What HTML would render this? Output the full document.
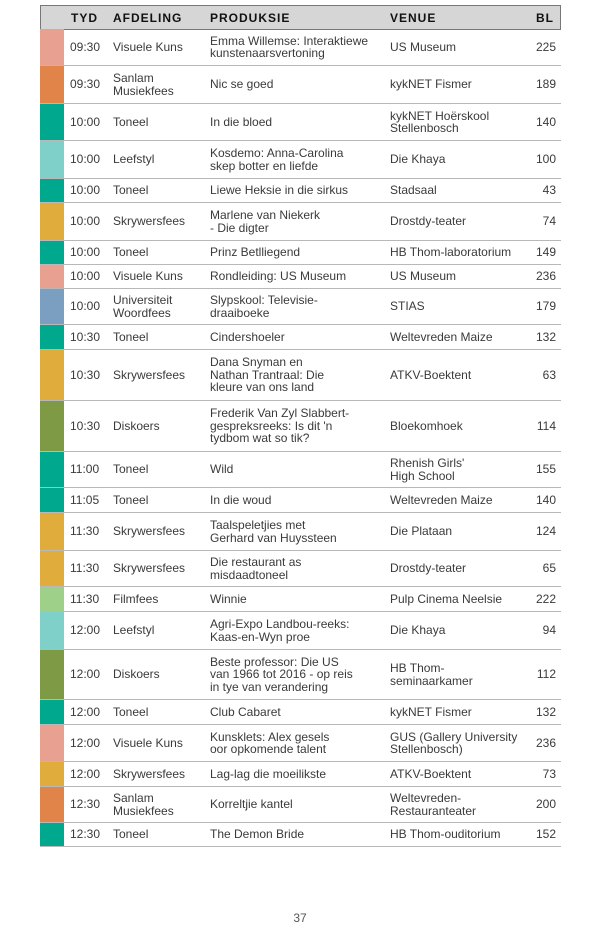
<!DOCTYPE html>
<html><head><meta charset="utf-8"><style>
body{margin:0;width:600px;height:930px;background:#fff;font-family:"Liberation Sans",sans-serif;color:#3a3a3a;position:relative;overflow:hidden}
.hd{position:absolute;left:40px;top:5px;width:519px;height:23px;background:#d6d6d6;border:1px solid #777;font-weight:bold;font-size:12px;letter-spacing:1px;color:#111}
.hd span{position:absolute;top:5px}
.r{position:absolute;left:40px;width:521px;border-bottom:1px solid #b8b8b8;font-size:12px;line-height:12.5px}
.r>div{position:absolute;top:0;bottom:0;display:flex;align-items:center}
.c{left:0;width:24px}
.t{left:30px}.a{left:73px}.p{left:170px;width:180px}.v{left:350px;width:140px}.b{right:5px}
.pg{position:absolute;top:911px;left:0;width:600px;text-align:center;font-size:12px;color:#555}
</style></head><body>
<div class="hd"><span style="left:30px">TYD</span><span style="left:72px">AFDELING</span><span style="left:169px">PRODUKSIE</span><span style="left:349px">VENUE</span><span style="right:6px">BL</span></div>
<div id="rows"></div>
<div class="pg">37</div>
<script>
var P="#e8a090",O="#e0844a",T="#00a88e",L="#7fd0c8",G="#e0ad3c",B="#7b9fc0",V="#7e9a45",F="#9ed08a";
var d=[
[29,66,P,"09:30","Visuele Kuns","Emma Willemse: Interaktiewe<br>kunstenaarsvertoning","US Museum",225],
[66,104,O,"09:30","Sanlam<br>Musiekfees","Nic se goed","kykNET Fismer",189],
[104,141,T,"10:00","Toneel","In die bloed","kykNET Hoërskool<br>Stellenbosch",140],
[141,179,L,"10:00","Leefstyl","Kosdemo: Anna-Carolina<br>skep botter en liefde","Die Khaya",100],
[179,203,T,"10:00","Toneel","Liewe Heksie in die sirkus","Stadsaal",43],
[203,241,G,"10:00","Skrywersfees","Marlene van Niekerk<br>- Die digter","Drostdy-teater",74],
[241,265,T,"10:00","Toneel","Prinz Betlliegend","HB Thom-laboratorium",149],
[265,289,P,"10:00","Visuele Kuns","Rondleiding: US Museum","US Museum",236],
[289,325,B,"10:00","Universiteit<br>Woordfees","Slypskool: Televisie-<br>draaiboeke","STIAS",179],
[325,350,T,"10:30","Toneel","Cindershoeler","Weltevreden Maize",132],
[350,401,G,"10:30","Skrywersfees","Dana Snyman en<br>Nathan Trantraal: Die<br>kleure van ons land","ATKV-Boektent",63],
[401,452,V,"10:30","Diskoers","Frederik Van Zyl Slabbert-<br>gespreksreeks: Is dit 'n<br>tydbom wat so tik?","Bloekomhoek",114],
[452,488,T,"11:00","Toneel","Wild","Rhenish Girls'<br>High School",155],
[488,513,T,"11:05","Toneel","In die woud","Weltevreden Maize",140],
[513,551,G,"11:30","Skrywersfees","Taalspeletjies met<br>Gerhard van Huyssteen","Die Plataan",124],
[551,587,G,"11:30","Skrywersfees","Die restaurant as<br>misdaadtoneel","Drostdy-teater",65],
[587,612,F,"11:30","Filmfees","Winnie","Pulp Cinema Neelsie",222],
[612,650,L,"12:00","Leefstyl","Agri-Expo Landbou-reeks:<br>Kaas-en-Wyn proe","Die Khaya",94],
[650,700,V,"12:00","Diskoers","Beste professor: Die US<br>van 1966 tot 2016 - op reis<br>in tye van verandering","HB Thom-<br>seminaarkamer",112],
[700,725,T,"12:00","Toneel","Club Cabaret","kykNET Fismer",132],
[725,762,P,"12:00","Visuele Kuns","Kunsklets: Alex gesels<br>oor opkomende talent","GUS (Gallery University<br>Stellenbosch)",236],
[762,787,G,"12:00","Skrywersfees","Lag-lag die moeilikste","ATKV-Boektent",73],
[787,823,O,"12:30","Sanlam<br>Musiekfees","Korreltjie kantel","Weltevreden-<br>Restauranteater",200],
[823,847,T,"12:30","Toneel","The Demon Bride","HB Thom-ouditorium",152]];
var h="";d.forEach(function(r){h+='<div class="r" style="top:'+r[0]+'px;height:'+(r[1]-r[0]-1)+'px"><div class="c" style="background:'+r[2]+'"></div><div class="t">'+r[3]+'</div><div class="a">'+r[4]+'</div><div class="p">'+r[5]+'</div><div class="v">'+r[6]+'</div><div class="b">'+r[7]+'</div></div>';});
document.getElementById("rows").innerHTML=h;
</script>
</body></html>
